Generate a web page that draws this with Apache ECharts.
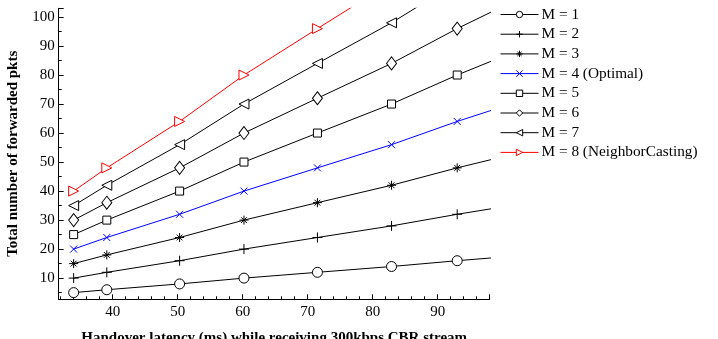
<!DOCTYPE html>
<html>
<head>
<meta charset="utf-8">
<script src="https://cdn.jsdelivr.net/npm/echarts@6/dist/echarts.min.js"></script>
<style>
  html, body { margin: 0; padding: 0; background: #fff; }
  #chart { width: 718px; height: 339px; }
</style>
</head>
<body>
<div id="chart"></div>
<script>
// --- DATA ---
const latency = [34, 39.1, 50.3, 60.2, 71.5, 82.9, 93, 104];
const m1 = [5, 6, 8, 10, 12, 14, 16, 18];
const m2 = [10, 12, 16, 20, 24, 28, 32, 36];
const m3 = [15, 18, 24, 30, 36, 42, 48, 54];
const m4 = [20, 24, 32, 40, 48, 56, 64, 72];
const m5 = [25, 30, 40, 50, 60, 70, 80, 90];
const m6 = [30, 36, 48, 60, 72, 84, 96, 108];
const m7 = [35, 42, 56, 70, 84, 98, 112, 126];
const m8 = [40, 48, 64, 80, 96, 112, 128, 144];
const seriesNames = ['M = 1', 'M = 2', 'M = 3', 'M = 4 (Optimal)', 'M = 5', 'M = 6', 'M = 7', 'M = 8 (NeighborCasting)'];

// --- SYMBOLS (stroked paths) ---
const PLUS = 'path://M5,0L5,10M0,5L10,5';
const CROSS = 'path://M0,0L10,10M10,0L0,10';
const STAR = 'path://M5,0L5,10M0,5L10,5M1.8,1.8L8.2,8.2M8.2,1.8L1.8,8.2';

const FONT = 'Liberation Serif';

function makeSeries(name, values, color, symbol, size, rotate, stroked) {
    return {
        name: name,
        type: 'line',
        data: latency.map((x, i) => [x, values[i]]),
        symbol: symbol,
        symbolSize: size,
        symbolRotate: rotate || 0,
        showAllSymbol: true,
        clip: true,
        color: color,
        lineStyle: { color: color, width: 1 },
        // hollow markers: white (or no) fill with a thin outline
        itemStyle: {
            color: stroked ? 'rgba(0,0,0,0)' : '#fff',
            borderColor: color,
            borderWidth: 1
        },
        emphasis: { disabled: true },
        animation: false
    };
}

const chart = echarts.init(document.getElementById('chart'));

chart.setOption({
    backgroundColor: '#fff',
    animation: false,
    textStyle: { fontFamily: FONT, color: '#000' },
    grid: { left: 58.7, right: 228.3, top: 8.3, bottom: 39.7, containLabel: false, outerBoundsMode: 'none' },
    legend: {
        orient: 'vertical',
        left: 500,
        top: 7,
        padding: 0,
        itemWidth: 38,
        itemHeight: 8,
        itemGap: 4.7,
        itemStyle: { borderWidth: 1 },
        lineStyle: { width: 1 },
        textStyle: { fontFamily: FONT, fontSize: 15.3, color: '#000', padding: [0, 0, 0, -2] },
        data: seriesNames
    },
    xAxis: {
        type: 'value',
        min: 31.7,
        max: 98,
        splitNumber: 7,
        name: 'Handover latency (ms) while receiving 300kbps CBR stream',
        nameLocation: 'middle',
        nameGap: 31,
        nameTextStyle: { fontFamily: FONT, fontSize: 15, fontWeight: 'bold', color: '#000' },
        axisLine: { lineStyle: { color: '#000', width: 1 } },
        axisTick: { inside: true, length: 5, lineStyle: { color: '#000' } },
        minorTick: { show: true, splitNumber: 5, length: 3, lineStyle: { color: '#000' } },
        axisLabel: { fontFamily: FONT, fontSize: 15, color: '#000', margin: 5, showMinLabel: false, showMaxLabel: false },
        splitLine: { show: false }
    },
    yAxis: {
        type: 'value',
        min: 2.7,
        max: 103,
        splitNumber: 10,
        name: 'Total number of forwarded pkts',
        nameLocation: 'middle',
        nameGap: 38,
        nameTextStyle: { fontFamily: FONT, fontSize: 15, fontWeight: 'bold', color: '#000' },
        axisLine: { show: true, lineStyle: { color: '#000', width: 1 } },
        axisTick: { inside: true, length: 5, lineStyle: { color: '#000' } },
        minorTick: { show: true, splitNumber: 2, length: 3, lineStyle: { color: '#000' } },
        axisLabel: { fontFamily: FONT, fontSize: 15, color: '#000', margin: 4, showMinLabel: false, showMaxLabel: false },
        splitLine: { show: false }
    },
    series: [
        makeSeries(seriesNames[0], m1, '#000', 'circle', 10),
        makeSeries(seriesNames[1], m2, '#000', PLUS, 10, 0, true),
        makeSeries(seriesNames[2], m3, '#000', STAR, 9, 0, true),
        makeSeries(seriesNames[3], m4, '#0000ff', CROSS, 7, 0, true),
        makeSeries(seriesNames[4], m5, '#000', 'rect', 8),
        makeSeries(seriesNames[5], m6, '#000', 'diamond', [10, 13]),
        makeSeries(seriesNames[6], m7, '#000', 'triangle', 10, 90),
        makeSeries(seriesNames[7], m8, '#ff0000', 'triangle', 10, -90)
    ]
});

window.addEventListener('resize', () => chart.resize());
</script>
</body>
</html>
